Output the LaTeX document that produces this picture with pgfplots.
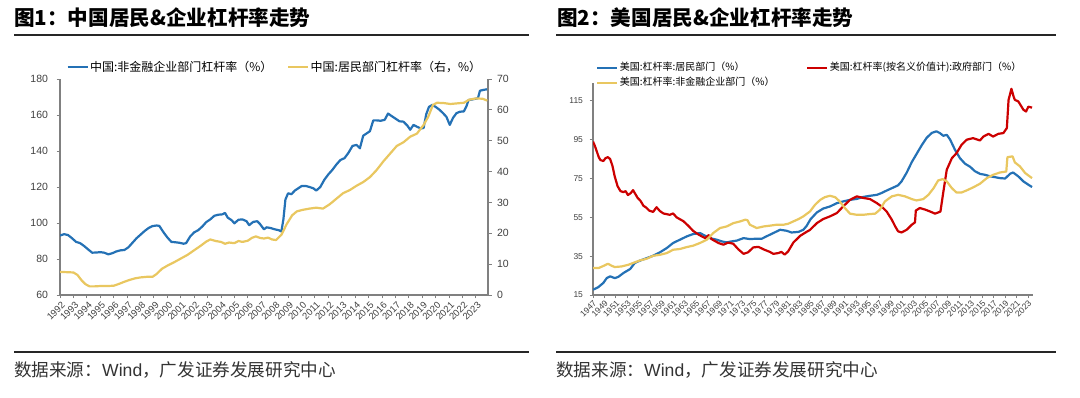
\documentclass[border=0pt]{standalone}
\usepackage{fontspec}
\setmainfont{Liberation Sans}
\newfontfamily\cjk{Noto Sans CJK SC}
\usepackage{pgfplots}
\pgfplotsset{compat=1.18}
\definecolor{cnblue}{RGB}{36,113,181}
\definecolor{cnyel}{RGB}{233,199,96}
\definecolor{usred}{RGB}{204,0,0}
\definecolor{axgray}{RGB}{128,128,128}
\definecolor{lblgray}{RGB}{64,64,64}
\pgfplotsset{
  base/.style={scale only axis, anchor=south west,
    axis line style={draw=axgray, line width=1.1pt},
    tick style={draw=axgray, line width=0.9pt},
    tick align=outside, major tick length=3.5pt,
    every tick label/.append style={text=lblgray},
    /pgf/number format/assume math mode=true,
    /pgf/number format/1000 sep={},
    scaled ticks=false},
  ser/.style={line width=2.2pt, line join=round},
  lgd/.style={legend image code/.code={\draw[##1] (0pt,0pt) -- (20pt,0pt);}},
}
\begin{document}
\begin{tikzpicture}
\path[use as bounding box] (0,0) rectangle (1080pt,398pt);
% ---------------- left panel ----------------
\begin{axis}[base, at={(60pt,103pt)}, width=428pt, height=216pt,
  xmin=1992, xmax=2023.9, ymin=60, ymax=180,
  axis x line*=bottom, axis y line*=left,
  xtick={1992,...,2023}, ytick={60,80,...,180},
  yticklabel style={font=\fontsize{10.5}{12}\selectfont, xshift=-5pt},
  xticklabel style={font=\fontsize{9.5}{10}\selectfont, rotate=45, anchor=east, inner sep=1pt, yshift=-6pt}]
\addplot[ser, color=cnblue] coordinates {
(1992.0,93.0)(1992.3,93.8)(1992.6,93.3)(1992.9,91.5)(1993.2,89.5)(1993.5,88.8)(1993.8,87.2)
(1994.1,85.3)(1994.4,83.5)(1994.7,83.6)(1995.0,83.8)(1995.3,83.5)(1995.6,82.6)(1995.9,83.2)
(1996.2,84.2)(1996.5,84.8)(1996.8,85.0)(1997.1,86.5)(1997.4,89.0)(1997.7,91.5)(1998.0,93.5)
(1998.3,95.5)(1998.6,97.2)(1998.9,98.3)(1999.2,98.6)(1999.4,98.4)(1999.7,95.0)(2000.0,92.0)
(2000.3,89.5)(2000.6,89.3)(2000.9,89.0)(2001.2,88.5)(2001.4,88.8)(2001.7,92.5)(2002.0,94.8)
(2002.3,96.0)(2002.6,98.0)(2002.9,100.5)(2003.2,102.0)(2003.5,104.0)(2003.8,104.6)(2004.1,104.8)
(2004.3,105.6)(2004.5,103.0)(2004.8,101.5)(2005.0,99.8)(2005.3,101.8)(2005.6,102.0)(2005.9,101.0)
(2006.1,98.8)(2006.4,100.6)(2006.7,101.0)(2006.9,99.5)(2007.2,96.5)(2007.4,97.6)(2007.7,97.2)
(2008.0,96.5)(2008.3,96.0)(2008.5,95.3)(2008.65,102)(2008.8,113)(2009.0,116.5)(2009.25,116.0)
(2009.5,118.0)(2009.8,119.5)(2010.0,120.5)(2010.3,120.6)(2010.6,120.0)(2010.9,119.2)(2011.1,118.0)
(2011.4,120.0)(2011.7,124.0)(2012.0,127.0)(2012.3,129.5)(2012.6,132.5)(2012.9,135.0)(2013.2,136.0)
(2013.5,139.0)(2013.8,142.8)(2014.1,143.4)(2014.35,141.5)(2014.6,148.5)(2014.9,150.0)(2015.1,151.0)
(2015.35,157.0)(2015.6,157.0)(2015.9,156.8)(2016.2,157.3)(2016.45,160.8)(2016.7,159.5)(2017.0,158.0)
(2017.3,156.5)(2017.6,156.3)(2017.9,154.0)(2018.1,151.8)(2018.35,154.5)(2018.6,153.5)(2018.9,152.5)
(2019.1,152.8)(2019.3,160.5)(2019.5,164.5)(2019.75,165.6)(2020.0,164.5)(2020.3,162.8)(2020.55,161.0)
(2020.8,159.0)(2021.05,154.5)(2021.3,158.5)(2021.55,161.0)(2021.8,161.8)(2022.1,162.0)(2022.3,165.0)
(2022.45,168.3)(2022.7,168.6)(2022.95,169.0)(2023.15,169.3)(2023.3,173.5)(2023.6,174.0)(2023.85,174.3)
};
\end{axis}
\begin{axis}[base, lgd, at={(60pt,103pt)}, width=428pt, height=216pt,
  xmin=1992, xmax=2023.9, ymin=0, ymax=70,
  axis y line*=right, axis x line=none, ytick={0,10,...,70},
  yticklabel style={font=\fontsize{10.5}{12}\selectfont, xshift=2pt},
  legend columns=2, legend cell align=left,
  legend style={draw=none, fill=none, at={(0.5,1)}, anchor=center, yshift=12pt, xshift=0pt,
    font=\cjk\fontsize{12}{13}\selectfont, nodes={inner sep=0.5pt},
    /tikz/every odd column/.append style={column sep=1pt},
    /tikz/every even column/.append style={column sep=14pt}}]
\addlegendimage{ser, color=cnblue}
\addlegendentry{中国:非金融企业部门杠杆率（\%）}
\addplot[ser, color=cnyel] coordinates {
(1992.0,7.5)(1992.5,7.4)(1993.0,7.3)(1993.3,6.5)(1993.6,4.8)(1993.9,3.5)(1994.2,2.8)(1994.6,2.8)
(1995.0,2.9)(1995.5,2.9)(1996.0,3.0)(1996.4,3.6)(1996.8,4.3)(1997.2,4.9)(1997.6,5.4)(1998.0,5.7)
(1998.5,5.9)(1998.9,5.9)(1999.2,6.8)(1999.6,8.5)(2000.0,9.5)(2000.5,10.6)(2001.0,11.8)(2001.5,13.0)
(2002.0,14.5)(2002.5,16.0)(2002.9,17.3)(2003.2,18.0)(2003.6,17.5)(2004.0,17.2)(2004.3,16.6)
(2004.6,17.0)(2005.0,16.8)(2005.3,17.5)(2005.6,17.2)(2006.0,17.6)(2006.3,18.5)(2006.6,19.0)
(2006.9,18.5)(2007.2,18.3)(2007.5,18.6)(2007.8,18.0)(2008.1,17.8)(2008.5,19.5)(2008.9,23.0)
(2009.3,25.8)(2009.65,27.1)(2010.1,27.6)(2010.6,28.0)(2011.1,28.3)(2011.6,28.0)(2012.1,29.4)
(2012.6,31.2)(2013.1,33.0)(2013.6,34.0)(2014.1,35.4)(2014.6,36.6)(2015.1,38.2)(2015.6,40.5)
(2016.1,43.3)(2016.6,45.8)(2017.1,48.3)(2017.6,49.5)(2018.1,51.3)(2018.6,52.3)(2019.1,55.1)
(2019.45,57.8)(2019.8,61.6)(2020.1,62.3)(2020.6,62.2)(2021.1,61.9)(2021.6,62.1)(2022.1,62.3)
(2022.5,63.3)(2023.0,63.7)(2023.5,63.6)(2023.85,63.0)
};
\addlegendentry{中国:居民部门杠杆率（右，\%）}
\end{axis}
% ---------------- right panel ----------------
\begin{axis}[base, lgd, at={(593pt,103pt)}, width=439.6pt, height=212.4pt,
  xmin=1947, xmax=2023.8, ymin=15, ymax=124.4,
  axis x line*=bottom, axis y line*=left,
  xtick={1947,1949,...,2023}, ytick={15,35,...,115},
  yticklabel style={font=\fontsize{8.5}{10}\selectfont, xshift=-3pt},
  xticklabel style={font=\fontsize{8.5}{9}\selectfont, rotate=45, anchor=east, inner sep=1pt, yshift=-4pt},
  legend columns=2, legend cell align=left,
  legend style={draw=none, fill=none, at={(0,1)}, anchor=west, xshift=0pt, yshift=7pt,
    font=\cjk\fontsize{10}{12}\selectfont, nodes={inner sep=0.5pt, text height=7.5pt, text depth=2.5pt},
    row sep=4pt,
    /tikz/every odd column/.append style={column sep=1pt},
    /tikz/every even column/.append style={column sep=31pt}}]
\addplot[ser, color=cnblue] coordinates {
(1947.0,17.7)(1947.9,19.0)(1948.8,21.2)(1949.4,23.7)(1950.0,24.6)(1950.8,23.7)(1951.4,24.3)
(1952.3,26.3)(1953.5,28.4)(1954.3,31.5)(1955.2,32.7)(1956.4,34.0)(1957.5,35.2)(1958.7,37.0)
(1959.9,39.2)(1961.0,41.8)(1962.2,43.5)(1963.4,45.2)(1964.5,46.4)(1965.7,46.9)(1966.6,45.5)
(1967.4,44.3)(1968.6,43.5)(1969.5,42.6)(1970.35,42.1)(1971.2,42.6)(1972.1,43.0)(1973.3,44.3)
(1974.4,43.8)(1975.6,44.0)(1976.5,44.0)(1977.3,45.2)(1978.5,46.9)(1979.7,48.6)(1980.8,48.1)
(1981.7,47.2)(1982.9,47.5)(1983.75,48.6)(1984.3,50.5)(1985.0,54.0)(1986.1,57.5)(1987.2,59.5)
(1988.4,60.6)(1989.6,62.3)(1990.7,63.2)(1991.9,64.0)(1993.1,64.5)(1994.2,65.5)(1995.4,66.1)
(1996.6,66.6)(1997.4,67.5)(1998.3,68.8)(1999.5,70.4)(2000.3,71.5)(2000.9,73.5)(2001.8,78.0)
(2002.7,83.5)(2003.5,87.5)(2004.4,92.0)(2005.3,96.0)(2006.2,98.5)(2007.0,99.3)(2007.6,98.4)
(2008.2,97.0)(2008.8,97.5)(2009.4,95.0)(2010.2,90.0)(2011.1,85.5)(2012.0,82.6)(2012.9,81.0)
(2013.7,78.8)(2014.6,77.4)(2015.5,76.9)(2016.4,76.1)(2017.2,75.7)(2018.1,75.2)(2019.0,75.0)
(2019.9,77.5)(2020.4,78.1)(2021.3,76.1)(2022.2,73.5)(2023.06,71.8)(2023.7,70.6)
};
\addlegendentry{美国:杠杆率:居民部门（\%）}
\addplot[ser, color=usred] coordinates {
(1947.0,94.0)(1947.3,92.0)(1947.6,89.5)(1948.0,86.0)(1948.3,84.5)(1948.8,84.0)(1949.2,85.5)
(1949.6,86.0)(1950.0,85.0)(1950.4,81.5)(1950.8,76.0)(1951.3,71.0)(1951.8,68.5)(1952.3,68.0)
(1952.7,68.5)(1953.1,66.5)(1953.6,67.5)(1954.0,69.0)(1954.4,67.0)(1954.8,65.0)(1955.3,63.5)
(1955.8,61.0)(1956.3,60.0)(1956.8,58.5)(1957.5,57.8)(1958.1,60.2)(1958.7,58.2)(1959.3,57.0)
(1960.4,56.3)(1961.0,57.0)(1961.6,55.0)(1962.8,53.0)(1963.7,50.5)(1964.5,48.0)(1965.4,46.2)
(1966.0,45.2)(1966.6,44.3)(1967.2,45.8)(1967.7,43.8)(1968.3,42.8)(1968.9,41.8)(1969.8,40.9)
(1970.6,42.0)(1971.5,41.4)(1972.4,38.5)(1973.3,36.2)(1974.1,37.0)(1975.0,39.5)(1975.9,39.8)
(1976.8,38.5)(1977.9,37.2)(1978.5,36.2)(1979.4,36.6)(1979.9,37.2)(1980.5,35.8)(1981.1,37.5)
(1982.0,42.0)(1983.2,45.5)(1984.3,47.5)(1984.9,48.5)(1986.1,52.0)(1987.2,54.1)(1988.4,55.5)
(1989.6,57.2)(1990.7,60.6)(1991.9,64.0)(1993.1,65.8)(1994.2,65.0)(1995.4,64.4)(1996.6,62.3)
(1997.4,60.6)(1998.3,58.0)(1999.2,53.8)(1999.8,50.3)(2000.3,47.8)(2000.9,47.2)(2001.8,48.6)
(2002.7,51.2)(2003.25,52.4)(2003.4,58.5)(2004.1,59.8)(2005.0,59.0)(2005.9,58.0)(2006.75,56.9)
(2007.3,57.5)(2007.7,58.0)(2008.2,68.0)(2008.8,79.5)(2009.7,85.5)(2010.5,88.0)(2011.4,92.4)
(2012.3,95.0)(2013.4,95.8)(2014.6,94.6)(2015.2,96.6)(2016.1,98.0)(2016.9,96.6)(2017.8,98.0)
(2018.7,98.4)(2019.3,101.0)(2019.6,115.5)(2020.1,121.2)(2020.5,117.0)(2020.7,115.5)(2021.3,114.7)
(2022.2,110.4)(2022.65,109.5)(2023.06,112.0)(2023.7,111.5)
};
\addlegendentry{美国:杠杆率(按名义价值计):政府部门（\%）}
\addplot[ser, color=cnyel] coordinates {
(1947.0,28.9)(1948.0,28.9)(1949.0,30.2)(1949.6,31.1)(1950.3,30.0)(1950.8,29.4)(1952.0,29.7)
(1953.2,30.6)(1954.0,31.5)(1955.2,32.8)(1956.4,33.7)(1957.5,35.2)(1958.7,35.7)(1959.9,36.6)
(1961.0,38.3)(1962.2,38.7)(1963.4,39.7)(1964.5,40.4)(1965.7,41.8)(1966.9,43.5)(1968.0,46.9)
(1969.2,49.5)(1970.35,50.3)(1971.5,52.0)(1972.7,52.9)(1973.6,53.8)(1974.0,53.5)(1974.4,51.2)
(1975.6,49.5)(1976.8,50.3)(1977.9,50.7)(1979.1,51.2)(1980.3,51.2)(1981.1,51.7)(1982.0,52.9)
(1982.9,54.1)(1983.75,55.5)(1984.9,58.0)(1985.8,61.5)(1986.7,64.0)(1987.5,65.4)(1988.4,66.1)
(1989.3,65.4)(1990.1,63.2)(1991.0,59.8)(1991.9,56.9)(1993.1,56.3)(1994.2,56.3)(1995.4,56.7)
(1996.3,56.9)(1997.1,58.9)(1998.0,63.2)(1999.2,65.8)(2000.3,66.6)(2001.5,65.8)(2002.7,64.4)
(2003.5,63.7)(2004.7,64.4)(2005.6,66.6)(2006.5,70.0)(2007.3,74.0)(2008.1,74.7)(2008.8,73.5)
(2009.7,70.0)(2010.5,67.8)(2011.4,67.8)(2012.3,68.9)(2013.4,70.4)(2014.6,72.3)(2015.8,75.2)
(2016.9,76.9)(2018.1,78.1)(2019.2,78.6)(2019.4,86.0)(2020.3,86.4)(2020.7,83.3)(2021.6,81.2)
(2022.5,77.8)(2023.7,75.2)
};
\addlegendentry{美国:杠杆率:非金融企业部门（\%）}
\end{axis}
% ---------------- titles, rules, sources ----------------
\node[anchor=west, inner sep=0pt] at (14pt,380pt) {\cjk\bfseries\fontsize{20.6}{22}\selectfont 图1：中国居民\&企业杠杆率走势};
\node[anchor=west, inner sep=0pt] at (557pt,380pt) {\cjk\bfseries\fontsize{20.6}{22}\selectfont 图2：美国居民\&企业杠杆率走势};
\draw[line width=2pt, black!85] (14pt,363.4pt) -- (529pt,363.4pt);
\draw[line width=2pt, black!85] (556pt,363.4pt) -- (1056pt,363.4pt);
\draw[line width=2pt, black!85] (14pt,46pt) -- (529pt,46pt);
\draw[line width=2pt, black!85] (556pt,46pt) -- (1056pt,46pt);
\node[anchor=west, inner sep=0pt, text=black!80] at (14pt,28pt) {\fontsize{17.6}{19}\selectfont{\cjk 数据来源：}Wind{\cjk ，广发证券发展研究中心}};
\node[anchor=west, inner sep=0pt, text=black!80] at (556pt,28pt) {\fontsize{17.6}{19}\selectfont{\cjk 数据来源：}Wind{\cjk ，广发证券发展研究中心}};
\end{tikzpicture}
\end{document}
